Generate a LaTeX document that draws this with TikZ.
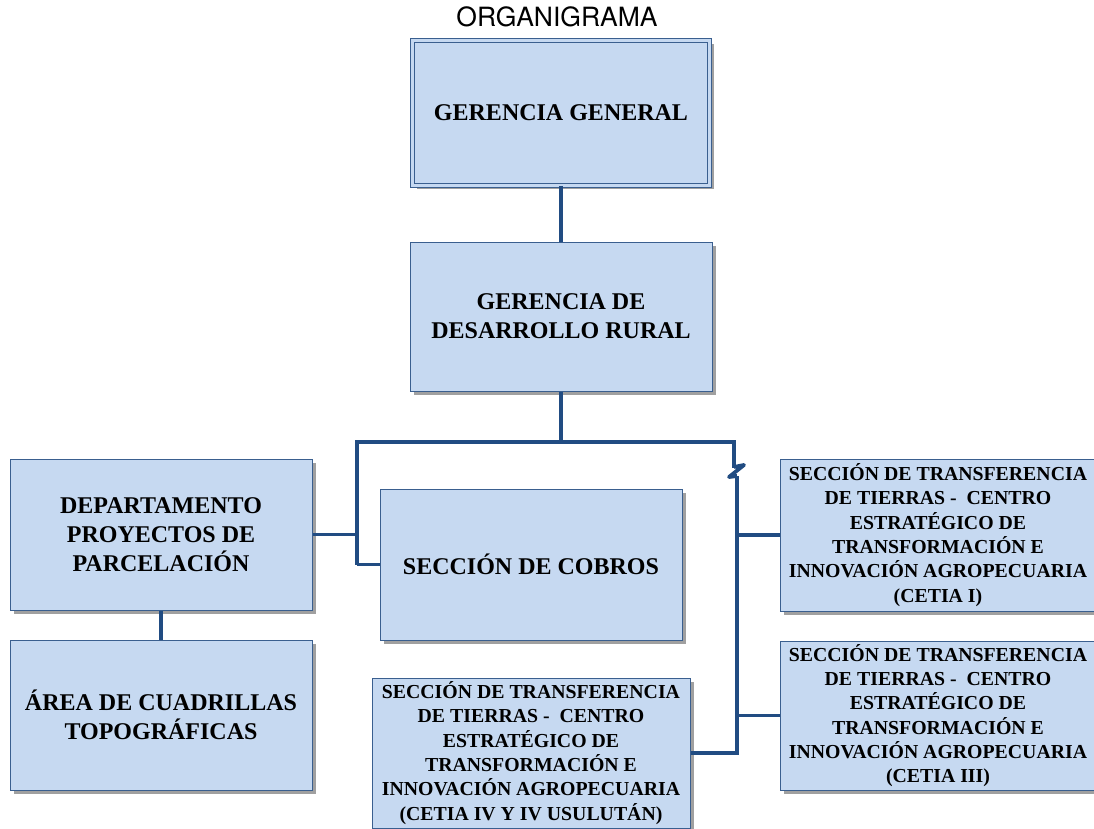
\documentclass[tikz,border=0pt]{standalone}
\usepackage{fontspec}
\setmainfont{Liberation Serif}
\newfontfamily\titlefont{TeX Gyre Heros}
\usetikzlibrary{shadows}
\definecolor{boxfill}{HTML}{C6D9F1}
\definecolor{boxline}{HTML}{3A5F8F}
\definecolor{connc}{HTML}{214C82}
\definecolor{shadowc}{HTML}{A0A0A0}
\begin{document}
\begin{tikzpicture}[x=1pt,y=-1pt,
  orgbox/.style={draw=boxline, fill=boxfill, line width=1pt, rectangle,
    align=center, inner sep=2pt,
    font=\fontsize{24}{29}\selectfont\bfseries,
    drop shadow={shadow xshift=4pt, shadow yshift=-4pt, fill=shadowc, opacity=1}},
  smallbox/.style={orgbox, font=\fontsize{19.8}{24.3}\selectfont\bfseries},
  wire/.style={draw=connc, line width=3.8pt, line join=miter}]
\useasboundingbox (0,0) rectangle (1094,829);
\clip (0,0) rectangle (1094,829);
\fill[white] (0,0) rectangle (1094,829);

\node[font=\titlefont\fontsize{26.5}{30}\selectfont, anchor=base] (title) at (557,27) {ORGANIGRAMA};

\node[orgbox, minimum width=297pt, minimum height=145pt, double=boxfill, double distance=3pt] (gg) at (561,113) {GERENCIA GENERAL};
\node[orgbox, minimum width=302pt, minimum height=149pt] (gdr) at (561,316.5) {GERENCIA DE\\DESARROLLO RURAL};
\node[orgbox, minimum width=302pt, minimum height=151pt] (dep) at (161,534.5) {DEPARTAMENTO\\PROYECTOS DE\\PARCELACIÓN};
\node[orgbox, minimum width=302pt, minimum height=150pt] (area) at (161,715) {ÁREA DE CUADRILLAS\\TOPOGRÁFICAS};
\node[orgbox, minimum width=302pt, minimum height=151pt] (cob) at (531,564.5) {SECCIÓN DE COBROS};
\node[smallbox, minimum width=318pt, minimum height=150pt] (c4) at (531,753) {SECCIÓN DE TRANSFERENCIA\\DE TIERRAS -\ \ CENTRO\\ESTRATÉGICO DE\\TRANSFORMACIÓN E\\INNOVACIÓN AGROPECUARIA\\(CETIA IV Y IV USULUTÁN)};
\node[smallbox, minimum width=316pt, minimum height=152pt] (c1) at (938,535) {SECCIÓN DE TRANSFERENCIA\\DE TIERRAS -\ \ CENTRO\\ESTRATÉGICO DE\\TRANSFORMACIÓN E\\INNOVACIÓN AGROPECUARIA\\(CETIA I)};
\node[smallbox, minimum width=316pt, minimum height=149pt] (c3) at (938,715.5) {SECCIÓN DE TRANSFERENCIA\\DE TIERRAS -\ \ CENTRO\\ESTRATÉGICO DE\\TRANSFORMACIÓN E\\INNOVACIÓN AGROPECUARIA\\(CETIA III)};

\coordinate (hl) at (357,442);
\coordinate (hr) at (734,442);
\coordinate (vb) at (737,476);

\draw[wire] (gg.south) -- (gdr.north);
\draw[wire] (gdr.south) -- (gdr.south |- hl);
\draw[wire] (hl |- cob.west) -- (hl) -- (hr) -- ++(0,26);
\draw[wire, line join=round] (734,467) -- (744,465) -- (729,477) -- (vb);
\draw[wire] (hl |- cob.west) -- (cob.west);
\draw[wire] (dep.east) -- (dep.east -| hl);
\draw[wire] (dep.south) -- (area.north);
\draw[wire] (vb) -- (vb |- c4.east) -- (c4.east);
\draw[wire] (vb |- c1.west) -- (c1.west);
\draw[wire] (vb |- c3.west) -- (c3.west);
\end{tikzpicture}
\end{document}
